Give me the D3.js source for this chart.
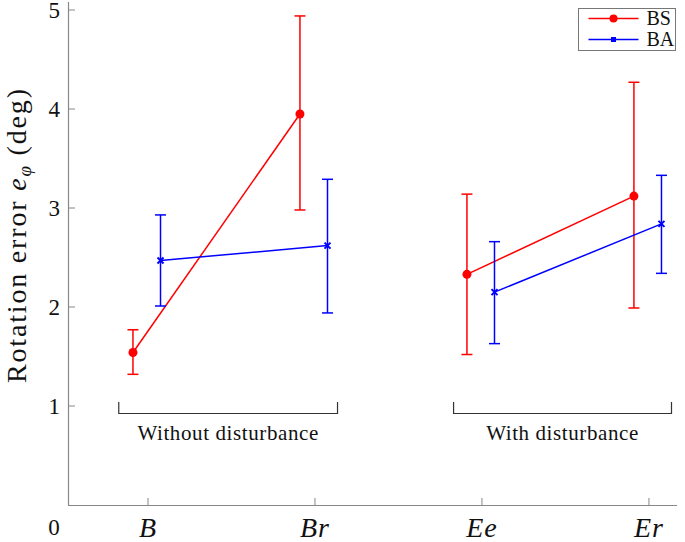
<!DOCTYPE html>
<html>
<head>
<meta charset="utf-8">
<script src="https://cdn.jsdelivr.net/npm/d3@7"></script>
<style>
  body { margin: 0; background: #fff; }
  text { font-family: "Liberation Serif", "DejaVu Serif", serif; fill: #111; }
</style>
</head>
<body>
<script>
  'use strict'
  const w = 685
  const h = 542

  // data
  const categories = ['B', 'Br', 'Ee', 'Er']
  const catPos = [1, 3, 5, 7]
  const bsMean = [1.54, 3.95, 2.33, 3.12]
  const bsLow = [1.32, 2.98, 1.52, 1.99]
  const bsHigh = [1.77, 4.94, 3.14, 4.27]
  const baMean = [2.47, 2.62, 2.15, 2.84]
  const baLow = [2.01, 1.94, 1.63, 2.34]
  const baHigh = [2.93, 3.29, 2.66, 3.33]
  const yTicks = [1, 2, 3, 4, 5]
  const groups = [
    { label: 'Without disturbance', from: 0.65, to: 3.27 },
    { label: 'With disturbance', from: 4.66, to: 7.27 }
  ]

  const x = d3.scaleLinear().domain([0, 7.3]).range([64.5, 674])
  const y = d3.scaleLinear().domain([0, 5]).range([505, 10])

  const svg = d3.select('body').append('svg')
    .attr('width', w)
    .attr('height', h)

  const axisColor = '#888'

  // axes
  svg.append('line')
    .attr('x1', 68.5).attr('x2', 68.5)
    .attr('y1', 505).attr('y2', 2)
    .attr('stroke', axisColor).attr('stroke-width', 1.2)
  svg.append('line')
    .attr('x1', 68).attr('x2', 677)
    .attr('y1', 505.5).attr('y2', 505.5)
    .attr('stroke', axisColor).attr('stroke-width', 1.2)

  svg.selectAll('.ytick').data(yTicks).enter().append('line')
    .attr('x1', 68).attr('x2', 75)
    .attr('y1', d => y(d)).attr('y2', d => y(d))
    .attr('stroke', axisColor)
  svg.selectAll('.ylab').data(yTicks).enter().append('text')
    .attr('x', 60).attr('y', d => y(d) + 8)
    .attr('text-anchor', 'end')
    .style('font-size', '23px')
    .text(d => d)
  svg.append('text')
    .attr('x', 54).attr('y', 535)
    .attr('text-anchor', 'middle')
    .style('font-size', '23px')
    .text('0')

  svg.selectAll('.xtick').data(catPos).enter().append('line')
    .attr('x1', d => x(d)).attr('x2', d => x(d))
    .attr('y1', 505).attr('y2', 498)
    .attr('stroke', axisColor)
  svg.selectAll('.xlab').data(categories).enter().append('text')
    .attr('x', (d, i) => x(catPos[i])).attr('y', 537)
    .attr('text-anchor', 'middle')
    .style('font-size', '28px')
    .style('font-style', 'italic')
    .style('letter-spacing', '1px')
    .text(d => d)

  // y axis title
  const yt = svg.append('text')
    .attr('transform', 'translate(26,236) rotate(-90)')
    .attr('text-anchor', 'middle')
    .attr('textLength', 294)
    .style('font-size', '28px')
  yt.append('tspan').text('Rotation error ')
  yt.append('tspan').style('font-style', 'italic').text('e')
  yt.append('tspan').style('font-style', 'italic').style('font-size', '19px')
    .attr('dy', 5).text('φ')
  yt.append('tspan').attr('dy', -5).text(' (deg)')

  // group brackets
  const br = svg.selectAll('.grp').data(groups).enter().append('g')
  br.append('path')
    .attr('d', d => `M${x(d.from)},402V413.5H${x(d.to)}V402`)
    .attr('fill', 'none').attr('stroke', '#333').attr('stroke-width', 1.2)
  br.append('text')
    .attr('x', d => (x(d.from) + x(d.to)) / 2).attr('y', 440)
    .attr('text-anchor', 'middle')
    .style('font-size', '21px')
    .style('letter-spacing', '0.6px')
    .text(d => d.label)

  const series = [
    { name: 'BS', color: '#f00', mean: bsMean, low: bsLow, high: bsHigh, dx: -0.18, marker: 'circle' },
    { name: 'BA', color: '#00f', mean: baMean, low: baLow, high: baHigh, dx: 0.15, marker: 'cross' }
  ]

  const line = d3.line().x(d => x(d.px)).y(d => y(d.v))

  series.forEach(function (s) {
    const pts = s.mean.map((v, i) => ({ px: catPos[i] + s.dx, v: v, lo: s.low[i], hi: s.high[i] }))
    const g = svg.append('g')
    // two separate segments per group
    g.selectAll('path.seg').data([pts.slice(0, 2), pts.slice(2, 4)]).enter().append('path')
      .attr('d', line)
      .attr('fill', 'none').attr('stroke', s.color).attr('stroke-width', 1.5)

    const eb = g.selectAll('.eb').data(pts).enter().append('g')
    eb.append('line')
      .attr('x1', d => x(d.px)).attr('x2', d => x(d.px))
      .attr('y1', d => y(d.lo)).attr('y2', d => y(d.hi))
      .attr('stroke', s.color).attr('stroke-width', 1.5)
    eb.append('line')
      .attr('x1', d => x(d.px) - 5.5).attr('x2', d => x(d.px) + 5.5)
      .attr('y1', d => y(d.lo)).attr('y2', d => y(d.lo))
      .attr('stroke', s.color).attr('stroke-width', 1.5)
    eb.append('line')
      .attr('x1', d => x(d.px) - 5.5).attr('x2', d => x(d.px) + 5.5)
      .attr('y1', d => y(d.hi)).attr('y2', d => y(d.hi))
      .attr('stroke', s.color).attr('stroke-width', 1.5)

    if (s.marker === 'circle') {
      g.selectAll('circle').data(pts).enter().append('circle')
        .attr('cx', d => x(d.px)).attr('cy', d => y(d.v)).attr('r', 4.5)
        .attr('fill', s.color)
    } else {
      g.selectAll('path.mk').data(pts).enter().append('path')
        .attr('d', d => {
          const cx = x(d.px), cy = y(d.v), r = 3
          return `M${cx - r},${cy - r}L${cx + r},${cy + r}M${cx - r},${cy + r}L${cx + r},${cy - r}`
        })
        .attr('stroke', s.color).attr('stroke-width', 2)
    }
  })

  // legend
  const lg = svg.append('g').attr('transform', 'translate(578.5,8.5)')
  lg.append('rect')
    .attr('width', 97).attr('height', 42)
    .attr('fill', '#fff').attr('stroke', '#777')
  series.forEach(function (s, i) {
    const ly = 10 + i * 21
    lg.append('line')
      .attr('x1', 10).attr('x2', 60).attr('y1', ly).attr('y2', ly)
      .attr('stroke', s.color).attr('stroke-width', 1.3)
    if (s.marker === 'circle') {
      lg.append('circle').attr('cx', 35).attr('cy', ly).attr('r', 4).attr('fill', s.color)
    } else {
      lg.append('rect').attr('x', 32.5).attr('y', ly - 2.5).attr('width', 5).attr('height', 5).attr('fill', s.color)
    }
    lg.append('text')
      .attr('x', 68).attr('y', ly + 6.5)
      .style('font-size', '20px')
      .text(s.name)
  })
</script>
</body>
</html>
